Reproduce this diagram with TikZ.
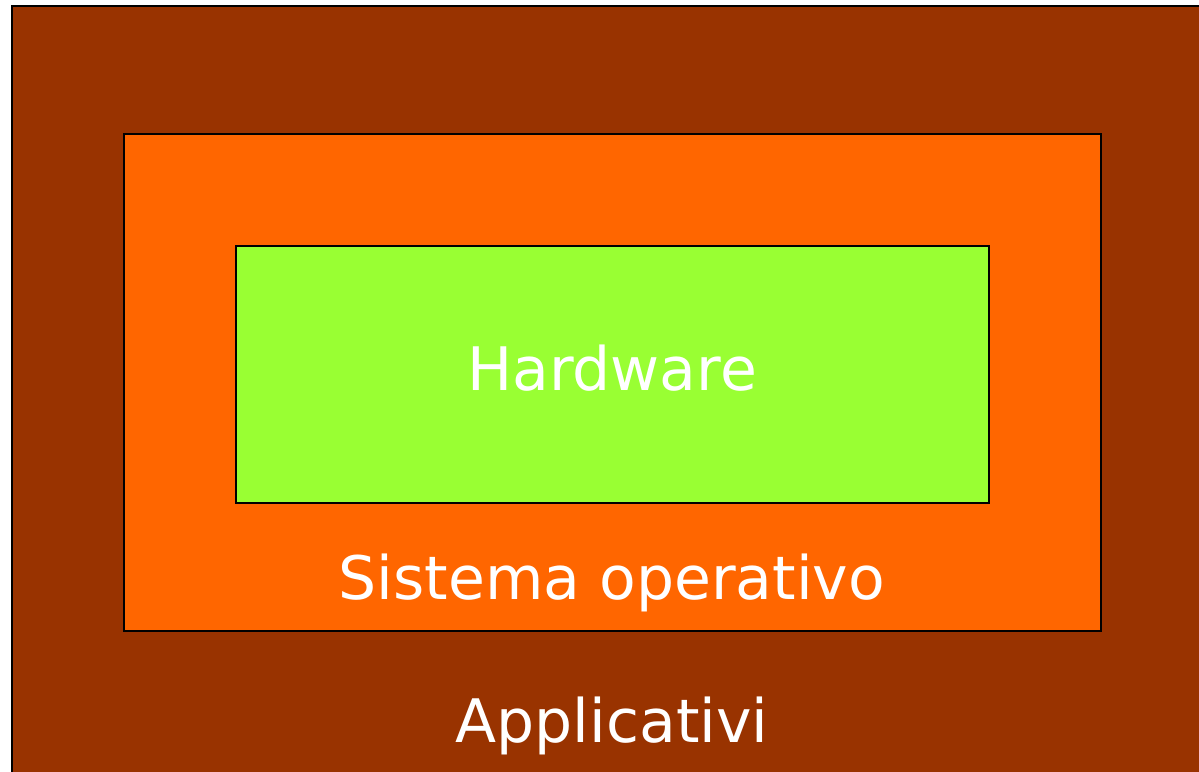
\documentclass[tikz,border=0pt]{standalone}
\usepackage{fontspec}
\setmainfont{DejaVu Sans}
\usetikzlibrary{positioning}
\definecolor{brownapp}{rgb}{0.6,0.2,0.0}
\definecolor{orangeos}{rgb}{1.0,0.4,0.0}
\definecolor{greenhw}{rgb}{0.6,1.0,0.2}

\tikzset{
	layer/.style={draw=black,line width=2pt,anchor=north west,inner sep=0pt},
	layertext/.style={white,anchor=base,inner sep=0pt,font=\fontsize{60}{72}\selectfont}
}

\begin{document}
\begin{tikzpicture}[x=1pt,y=-1pt]
				\useasboundingbox (0,0) rectangle (1199,771);
				\clip (0,0) rectangle (1199,771);
				\fill[white] (0,0) rectangle (1199,771);
				
				%----------------------------------------------------------------
				\node(app) [layer,fill=brownapp,minimum width=1220pt,minimum height=800pt] at (11,5) {};
				\node(os) [layer,fill=orangeos,minimum width=977pt,minimum height=497pt] at (123,133) {};
				\node(hw) [layer,fill=greenhw,minimum width=753pt,minimum height=257pt] at (235,245) {};
				
				%----------------------------------------------------------------
				\node(hwtext) [layertext] at (612,390) {Hardware};
				\node(ostext) [layertext] at (612,599) {Sistema operativo};
				\node(apptext) [layertext] at (612,742) {Applicativi};
			\end{tikzpicture}
\end{document}
